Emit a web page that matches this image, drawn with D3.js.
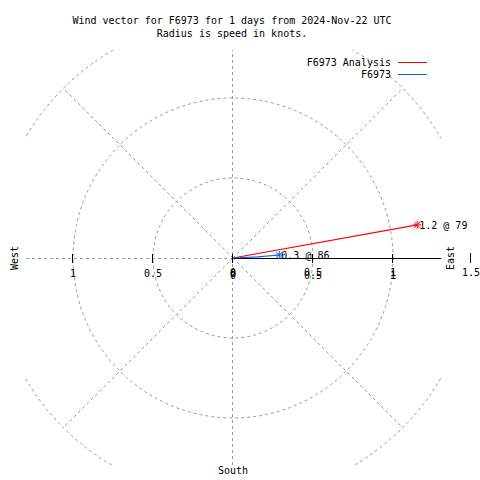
<!DOCTYPE html>
<html><head><meta charset="utf-8">
<script src="https://cdn.jsdelivr.net/npm/d3@7"></script>
<style>body{margin:0;background:#fff}svg{display:block}text{font-family:"DejaVu Sans Mono",monospace;font-size:10px;fill:#000}</style>
</head><body>
<script>
const titleLines = ["Wind vector for F6973 for 1 days from 2024-Nov-22 UTC", "Radius is speed in knots."];
const seriesNames = ["F6973 Analysis", "F6973"];
const seriesColors = ["#ff0000", "#0066ee"];
// cumulative vector points: [speed knots, direction deg]
const analysisSpeed = [0, 1.17];
const analysisDir = [0, 79.8];
const obsSpeed = [0, 0.155, 0.29];
const obsDir = [0, 87.6, 86.3];
const ringValues = [0.5, 1.0, 1.5];
const diagAngles = [45, 135, 225, 315];
const eastTicks = [0, 0.5, 1, 1.5];
const westTicks = [1, 0.5, 0];
const compassLabels = ["East", "West", "South"];

const W = 480, H = 480, cx = 233, cy = 258;
const r = d3.scaleLinear().domain([0, 1.5]).range([0, 240]);
const lim = r(1.3);
const svg = d3.select("body").append("svg").attr("width", W).attr("height", H);
svg.append("defs").append("clipPath").attr("id", "clip").append("rect")
  .attr("x", cx - lim).attr("y", cy - lim).attr("width", 2 * lim).attr("height", 2 * lim);

const pt = (s, d) => [cx + r(s) * Math.sin(d * Math.PI / 180), cy - r(s) * Math.cos(d * Math.PI / 180)];

svg.selectAll("text.title").data(titleLines).join("text").attr("class", "title")
  .attr("x", 232).attr("y", (d, i) => 24 + i * 13).attr("text-anchor", "middle").text(d => d);

const g = svg.append("g").attr("clip-path", "url(#clip)");
const dash = {stroke: "#999999", "stroke-width": 1, "stroke-dasharray": "3,3", fill: "none"};
function sty(sel) { Object.entries(dash).forEach(([k, v]) => sel.attr(k, v)); return sel; }

sty(g.selectAll("circle.ring").data(ringValues).join("circle").attr("class", "ring")
  .attr("cx", cx).attr("cy", cy).attr("r", d => r(d)));
sty(g.selectAll("line.diag").data(diagAngles).join("line").attr("class", "diag")
  .attr("x1", cx).attr("y1", cy).attr("x2", d => pt(1.5, d)[0]).attr("y2", d => pt(1.5, d)[1]));
sty(g.append("line").attr("x1", cx - 0.5).attr("x2", cx - 0.5).attr("y1", cy - r(1.5)).attr("y2", cy + r(1.5)));
sty(g.append("line").attr("x1", cx).attr("x2", cx - r(1.5)).attr("y1", cy + 0.5).attr("y2", cy + 0.5));

// east solid axis
svg.append("line").attr("x1", cx).attr("x2", cx + lim).attr("y1", cy + 0.5).attr("y2", cy + 0.5)
  .attr("stroke", "#000").attr("stroke-width", 1);
svg.selectAll("line.etick").data(eastTicks).join("line").attr("class", "etick")
  .attr("x1", d => cx + r(d) - 0.5 - (d === 1.5 ? 2 : 0)).attr("x2", d => cx + r(d) - 0.5 - (d === 1.5 ? 2 : 0))
  .attr("y1", d => d === 1.5 ? cy - 5 : cy - 4).attr("y2", cy + 5)
  .attr("stroke", "#000").attr("stroke-width", 1);
svg.selectAll("line.wtick").data(westTicks.filter(d => d > 0)).join("line").attr("class", "wtick")
  .attr("x1", d => cx - r(d) - 0.5).attr("x2", d => cx - r(d) - 0.5)
  .attr("y1", cy - 4).attr("y2", cy + 5).attr("stroke", "#000");
[0, 3].forEach(off => {
  svg.selectAll("text.el" + off).data(off ? eastTicks.slice(0, 3) : eastTicks).join("text").attr("class", "el" + off)
    .attr("x", d => cx + r(d) - (d === 1.5 ? 2 : 0)).attr("y", 276 + off).attr("text-anchor", "middle").text(d => String(d));
});
svg.selectAll("text.wl").data(westTicks).join("text").attr("class", "wl")
  .attr("x", d => cx - r(d)).attr("y", 277).attr("text-anchor", "middle").text(d => String(d));

svg.append("text").attr("transform", `translate(454,${cy}) rotate(-90)`).attr("text-anchor", "middle").text(compassLabels[0]);
svg.append("text").attr("transform", `translate(18,${cy}) rotate(-90)`).attr("text-anchor", "middle").text(compassLabels[1]);
svg.append("text").attr("x", cx).attr("y", 474).attr("text-anchor", "middle").text(compassLabels[2]);

// vectors
const series = [
  {speed: analysisSpeed, dir: analysisDir, color: seriesColors[0]},
  {speed: obsSpeed, dir: obsDir, color: seriesColors[1]}
];
const line = d3.line();
series.forEach(s => {
  const pts = s.speed.map((v, i) => pt(v, s.dir[i]));
  svg.append("path").attr("d", line(pts)).attr("fill", "none").attr("stroke", s.color).attr("stroke-width", 1.2);
  const [ex, ey] = pts[pts.length - 1];
  const k = 4;
  [[0, -k, 0, k], [-k, 0, k, 0], [-3, -3, 3, 3], [-3, 3, 3, -3]].forEach(([a, b, c, d]) =>
    svg.append("line").attr("x1", ex + a).attr("y1", ey + b).attr("x2", ex + c).attr("y2", ey + d).attr("stroke", s.color));
  const sp = s.speed[s.speed.length - 1], dr = s.dir[s.dir.length - 1];
  svg.append("text").attr("x", ex + 2).attr("y", ey + 4).text(`${sp.toFixed(1)} @ ${Math.floor(dr)}`);
});

// legend
svg.selectAll("text.leg").data(seriesNames).join("text").attr("class", "leg")
  .attr("x", 391).attr("y", (d, i) => 66 + i * 12).attr("text-anchor", "end").text(d => d);
svg.selectAll("line.leg").data(seriesColors).join("line").attr("class", "leg")
  .attr("x1", 398).attr("x2", 427).attr("y1", (d, i) => 62.5 + i * 12).attr("y2", (d, i) => 62.5 + i * 12)
  .attr("stroke", d => d).attr("stroke-width", 1);
</script>
</body></html>
